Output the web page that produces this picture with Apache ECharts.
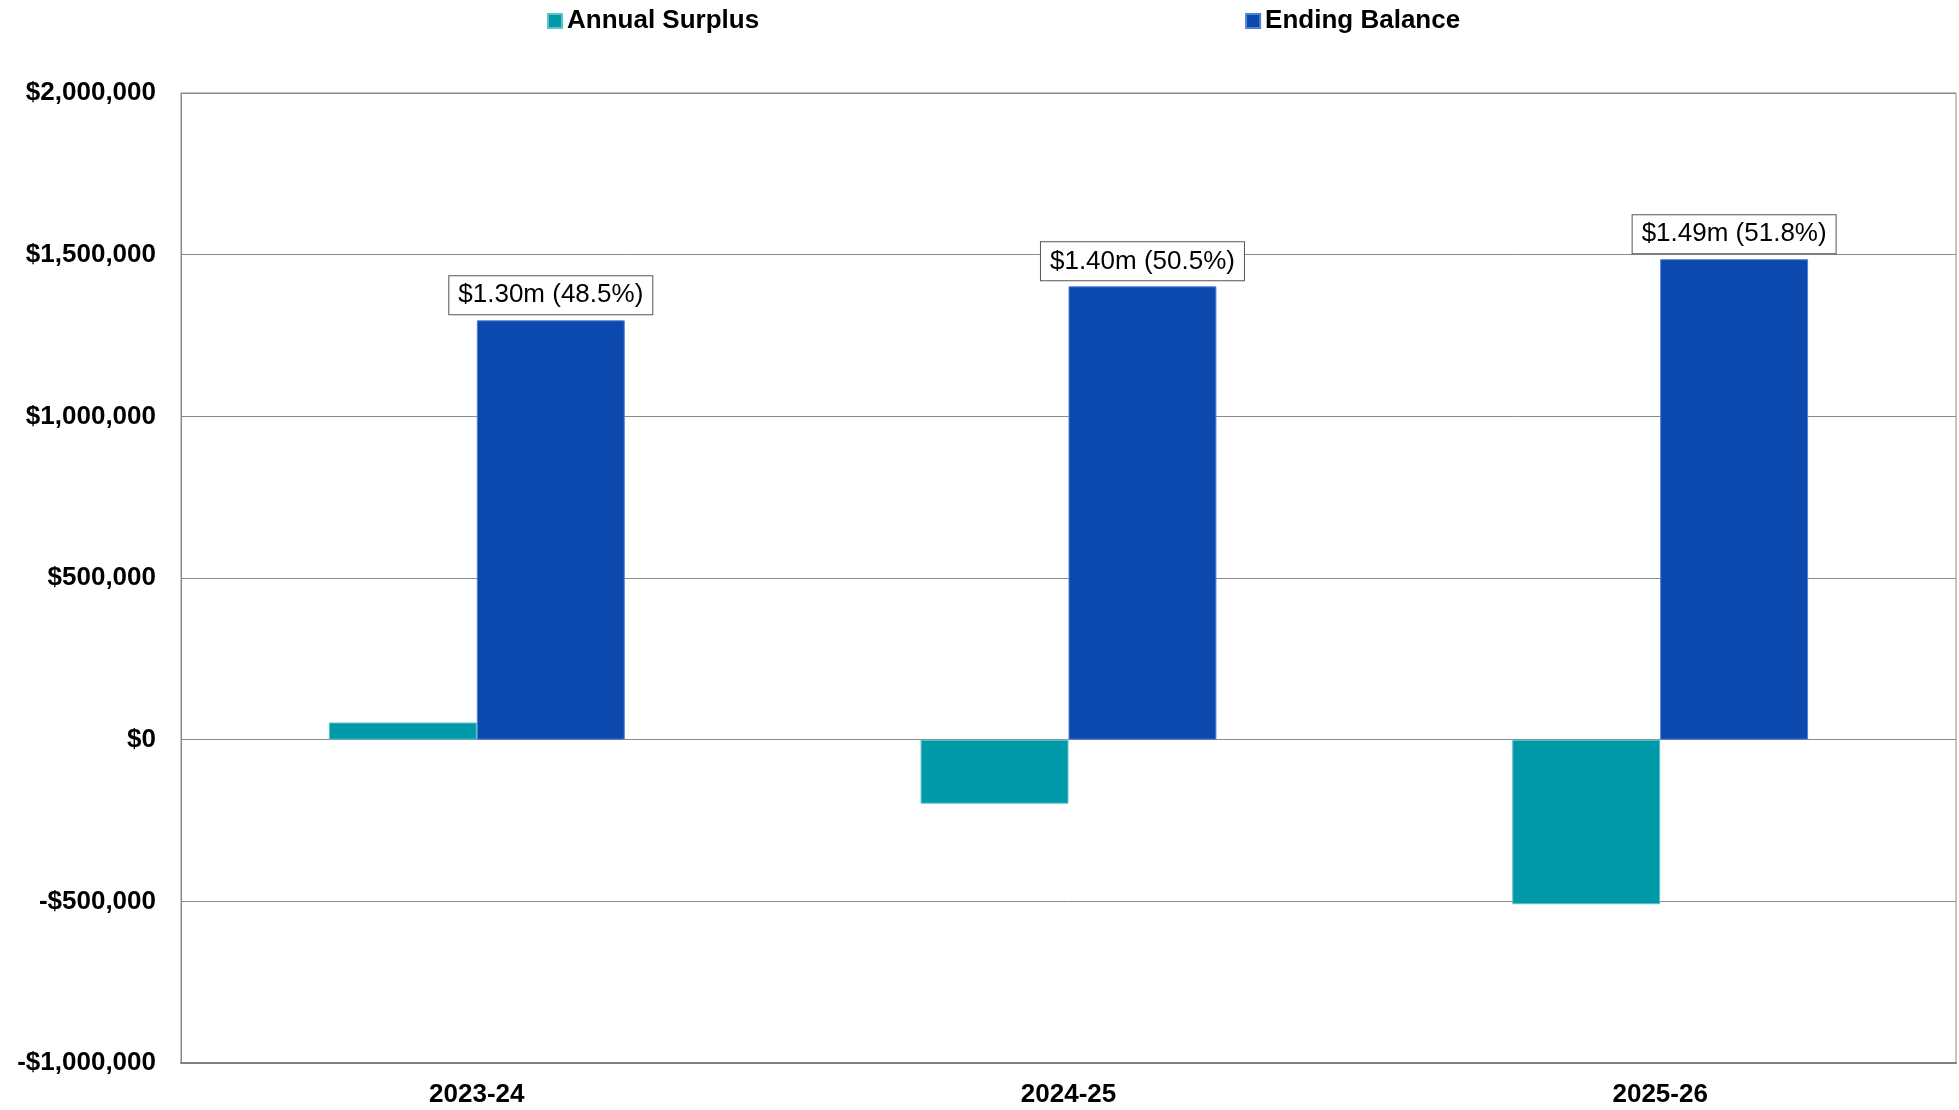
<!DOCTYPE html>
<html>
<head>
<meta charset="utf-8">
<script src="https://cdn.jsdelivr.net/npm/echarts@6/dist/echarts.min.js"></script>
<style>
  html, body { margin: 0; padding: 0; background: #ffffff; }
  #chart { width: 1959px; height: 1110px; }
</style>
</head>
<body>
<div id="chart"></div>
<script>
// Fiscal years shown on the category axis
const years = ['2023-24', '2024-25', '2025-26'];
// Yearly surplus (deficit) in dollars
const annualSurplus = [53000, -198000, -509000];
// Fund balance at year end in dollars
const endingBalance = [1297000, 1402000, 1486000];
// Ending balance as a share of expenditures, shown in the bar labels
const balancePct = [48.5, 50.5, 51.8];
// Value-axis range and step
const axisMin = -1000000;
const axisMax = 2000000;
const axisStep = 500000;

const FONT = '"Liberation Sans", Arial, Helvetica, sans-serif';

function money(v) {
  const s = '$' + Math.abs(v).toLocaleString('en-US');
  return v < 0 ? '-' + s : s;
}

const chart = echarts.init(document.getElementById('chart'), null, { renderer: 'canvas' });

chart.setOption({
  backgroundColor: '#ffffff',
  animation: false,
  textStyle: { fontFamily: FONT },
  legend: {
    left: 542,
    top: 3,
    itemWidth: 14,
    itemHeight: 14,
    itemGap: 486,
    icon: 'rect',
    textStyle: { fontFamily: FONT, fontSize: 26, fontWeight: 'bold', color: '#000000' },
    data: ['Annual Surplus', 'Ending Balance']
  },
  grid: {
    left: 181,
    right: 3,
    top: 93,
    bottom: 47,
    show: true,
    borderColor: '#8a8a8a',
    borderWidth: 1,
    containLabel: false
  },
  xAxis: {
    type: 'category',
    data: years,
    axisLine: { onZero: false, lineStyle: { color: '#808080', width: 2 } },
    axisTick: { show: false },
    axisLabel: { margin: 19, fontFamily: FONT, fontSize: 26, fontWeight: 'bold', color: '#000000' }
  },
  yAxis: {
    type: 'value',
    min: axisMin,
    max: axisMax,
    interval: axisStep,
    axisLine: { show: true, lineStyle: { color: '#8a8a8a', width: 1 } },
    axisTick: { show: false },
    splitLine: { lineStyle: { color: '#8a8a8a', width: 1 } },
    axisLabel: {
      margin: 25,
      fontFamily: FONT,
      fontSize: 26,
      fontWeight: 'bold',
      color: '#000000',
      formatter: money
    }
  },
  series: [
    {
      name: 'Annual Surplus',
      type: 'bar',
      data: annualSurplus,
      barGap: '0%',
      barCategoryGap: '50%',
      itemStyle: { color: '#0099a7', borderColor: '#5cc3cc', borderWidth: 1 }
    },
    {
      name: 'Ending Balance',
      type: 'bar',
      data: endingBalance,
      barGap: '0%',
      barCategoryGap: '50%',
      itemStyle: { color: '#0c49ae', borderColor: '#4f7fd6', borderWidth: 1 },
      label: {
        show: true,
        position: 'top',
        distance: 6,
        fontFamily: FONT,
        fontSize: 26,
        lineHeight: 26,
        color: '#000000',
        backgroundColor: '#ffffff',
        borderColor: '#555555',
        borderWidth: 1,
        padding: [6, 9, 6, 9],
        formatter: function (p) {
          return '$' + (p.value / 1000000).toFixed(2) + 'm (' + balancePct[p.dataIndex].toFixed(1) + '%)';
        }
      }
    }
  ]
});
</script>
</body>
</html>
